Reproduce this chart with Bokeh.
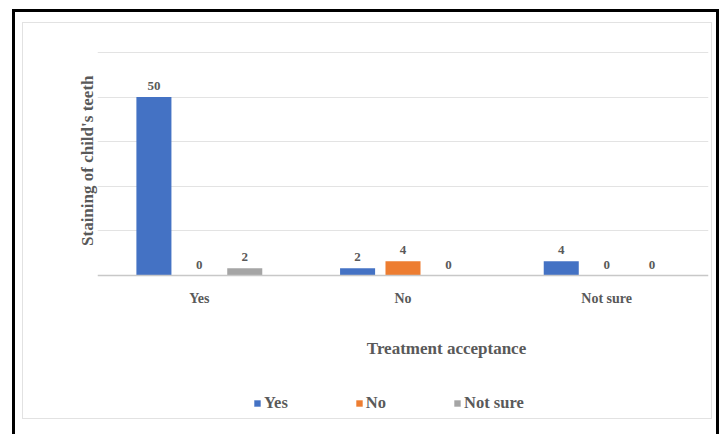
from bokeh.plotting import figure
from bokeh.models import (FactorRange, Range1d, FixedTicker, Label, Legend, LegendItem,
                          ColumnDataSource, Title)
from bokeh.transform import dodge
from bokeh.core.properties import value
from bokeh.embed import file_html
from bokeh.resources import INLINE

categories = ["Yes", "No", "Not sure"]
series_names = ["Yes", "No", "Not sure"]
yes_vals = [50, 2, 4]
no_vals = [0, 4, 0]
notsure_vals = [2, 0, 0]
colors = ["#4472C4", "#ED7D31", "#A5A5A5"]
grid_ticks = [12.5, 25, 37.5, 50, 62.5]
x_title = "Treatment acceptance"
y_title = "Staining of child's teeth"

FONT = "Liberation Serif"
TXT = "#595959"

src = ColumnDataSource(dict(cat=categories, yes=yes_vals, no=no_vals, ns=notsure_vals,
                            yes_l=[str(v) for v in yes_vals],
                            no_l=[str(v) for v in no_vals],
                            ns_l=[str(v) for v in notsure_vals]))

# frame spans x 97..708 and y 50..434; value 0 sits at y=275
p = figure(width=724, height=434, x_range=FactorRange(*categories, range_padding=0),
           y_range=Range1d(-44.56, 63.06), output_backend="svg", toolbar_location=None,
           min_border_left=97, min_border_right=16, min_border_top=50, min_border_bottom=0)
p.outline_line_color = None
p.background_fill_alpha = 0
p.border_fill_alpha = 0

frame_css = {
    "background-color": "white",
    "background-image": ", ".join(["linear-gradient(#000,#000)"] * 3 +
                                  ["linear-gradient(#e2e2e2,#e2e2e2)"] * 4),
    "background-position": "12px 9px, 12px 9px, 716px 9px, 22px 22px, 22px 418px, 22px 22px, 711px 22px",
    "background-size": "706px 3px, 3px 425px, 3px 425px, 690px 1px, 690px 1px, 1px 397px, 1px 397px",
    "background-repeat": "no-repeat",
}
p.styles = frame_css

offs = [-0.223, 0.0, 0.223]
fields = ["yes", "no", "ns"]
renderers = []
for f, o, c in zip(fields, offs, colors):
    r = p.vbar(x=dodge("cat", o, range=p.x_range), top=f, width=0.172, source=src,
               fill_color=c, line_color=None)
    renderers.append(r)
    p.text(x=dodge("cat", o, range=p.x_range), y=f, text=f + "_l", source=src,
           text_font=value(FONT), text_font_style="bold", text_font_size="13px",
           text_color=TXT, text_align="center", text_baseline="bottom", y_offset=-7)

p.yaxis.visible = False
p.ygrid.ticker = FixedTicker(ticks=grid_ticks)
p.ygrid.grid_line_color = "#e3e3e3"
p.xgrid.grid_line_color = None

ax = p.xaxis[0]
ax.fixed_location = 0
ax.axis_line_color = "#c8c8c8"
ax.axis_line_width = 1.5
ax.major_tick_line_color = None
ax.minor_tick_line_color = None
ax.major_label_text_font = FONT
ax.major_label_text_font_style = "bold"
ax.major_label_text_font_size = "14px"
ax.major_label_text_color = TXT
ax.major_label_standoff = 9

# frame-relative screen units (origin at frame's bottom-left, y up)
p.add_layout(Label(x=349, y=86, x_units="screen", y_units="screen", text=x_title,
                   text_font=FONT, text_font_style="bold", text_font_size="17px",
                   text_color=TXT, text_align="center", text_baseline="middle"))

p.add_layout(Title(text=y_title, align="right", offset=25, standoff=1,
                   text_font=FONT, text_font_style="bold", text_font_size="17px",
                   text_color=TXT), "left")

legend = Legend(items=[LegendItem(label=n, renderers=[r]) for n, r in zip(series_names, renderers)],
                orientation="horizontal", location=(156, 21),
                glyph_width=8, glyph_height=8, label_standoff=3, spacing=67,
                label_text_font=FONT, label_text_font_style="bold",
                label_text_font_size="16.5px", label_text_color=TXT,
                border_line_color=None, background_fill_alpha=0)
p.add_layout(legend, "center")

html = file_html(p, INLINE)
open("out.html", "w").write(html)
